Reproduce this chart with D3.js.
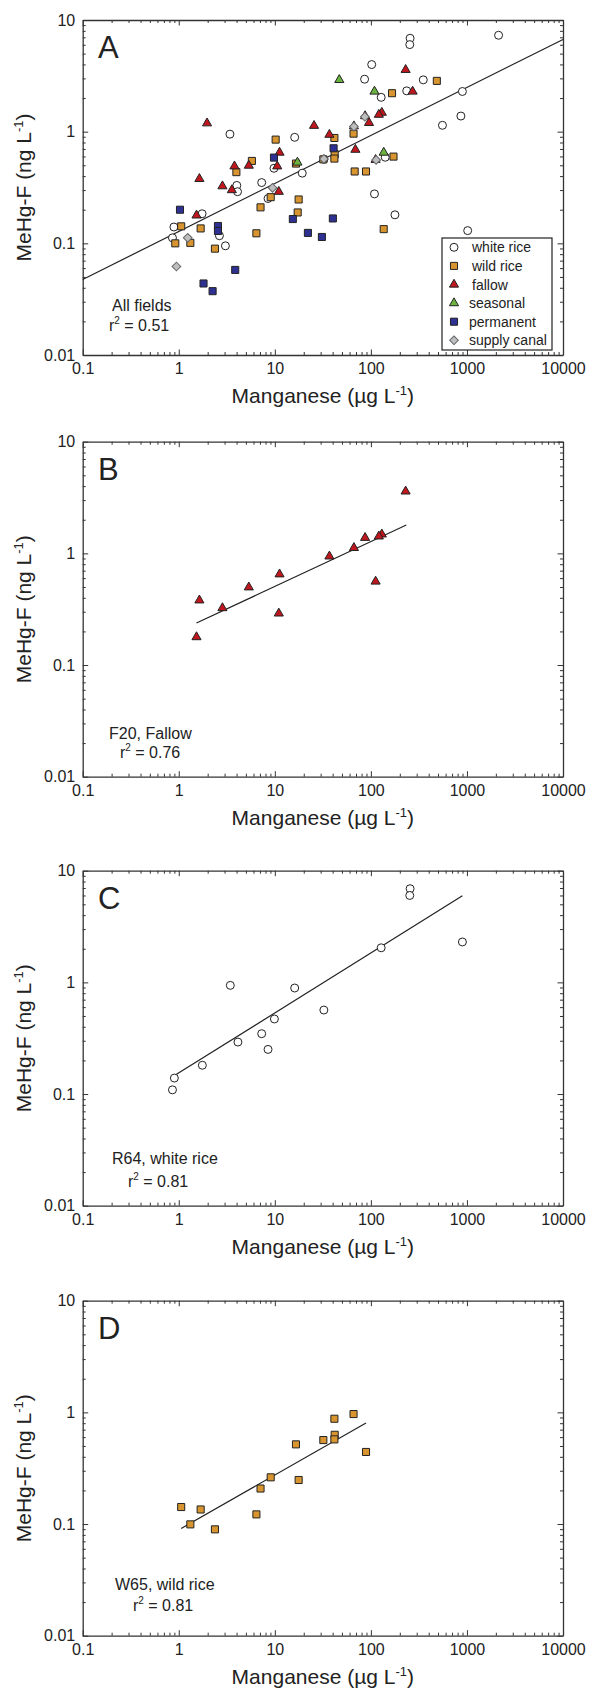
<!DOCTYPE html>
<html>
<head>
<meta charset="utf-8">
<script src="https://cdnjs.cloudflare.com/ajax/libs/d3/7.8.5/d3.min.js"></script>
<style>
  body { margin: 0; background: #fff; }
  svg { display: block; font-family: "Liberation Sans", Arial, Helvetica, sans-serif; }
  .domain { stroke: #333; stroke-width: 1.3; }
  .tick line { stroke: #333; stroke-width: 1; }
  .tick text { font-size: 16px; fill: #222; }
</style>
</head>
<body>
<div id="chart"></div>
<script>
// axis tick labels
const xTicks = [0.1, 1, 10, 100, 1000, 10000];
const yTicks = [0.01, 0.1, 1, 10];

const categories = ['white rice', 'wild rice', 'fallow', 'seasonal', 'permanent', 'supply canal'];

// panel A, all fields: [Mn (ug/L), MeHg-F (ng/L)]
const aWhiteRice = [[256, 6.86], [254, 6.02], [2135, 7.3], [102, 3.99], [86, 2.95], [351, 2.91],
  [236, 2.32], [897, 2.29], [128, 2.03], [865, 1.38], [556, 1.14], [3.41, 0.95], [16.1, 0.89],
  [9.8, 0.47], [19.3, 0.425], [141, 0.59], [4.02, 0.33], [4.09, 0.29], [7.3, 0.35], [8.5, 0.252],
  [109, 0.277], [178, 0.18], [1.75, 0.184], [0.89, 0.14], [0.86, 0.112], [2.65, 0.117],
  [3.06, 0.095], [1018, 0.13], [32.4, 0.565]];
const aWildRice = [[486, 2.85], [166, 2.21], [10.2, 0.849], [66, 0.96], [41.7, 0.878], [42, 0.628],
  [41.7, 0.574], [5.77, 0.547], [16.6, 0.518], [172, 0.598], [3.98, 0.434], [67.8, 0.44], [89, 0.44],
  [9.06, 0.259], [17.7, 0.247], [7.1, 0.21], [17.3, 0.189], [6.43, 0.123], [1.06, 0.142],
  [1.69, 0.136], [1.32, 0.101], [0.92, 0.1], [2.38, 0.0896], [136, 0.134], [32, 0.565]];
const aFallow = [[230, 3.58], [272, 2.29], [130, 1.48], [121, 1.42], [95.6, 1.2], [25.6, 1.13],
  [37, 0.94], [1.97, 1.19], [69, 0.69], [11.2, 0.65], [10.6, 0.49], [5.36, 0.497], [3.8, 0.49],
  [1.64, 0.378], [2.85, 0.325], [3.57, 0.3], [11, 0.29], [1.53, 0.178], [66.6, 1.12], [112, 0.56],
  [87, 1.38]];
const aSeasonal = [[46.9, 2.91], [109, 2.29], [136, 0.65], [17.2, 0.53]];
const aPermanent = [[40.9, 0.71], [9.8, 0.586], [1.03, 0.2], [2.56, 0.143], [2.56, 0.129],
  [15.4, 0.165], [40.2, 0.167], [22.1, 0.124], [30.9, 0.114], [3.87, 0.0578], [1.81, 0.0437],
  [2.25, 0.0373]];
const aSupplyCanal = [[86.5, 1.36], [66.6, 1.11], [32.4, 0.57], [113.5, 0.558], [9.47, 0.314],
  [1.24, 0.112], [0.946, 0.062]];

// panel B, F20 fallow
const bFallow = [[230, 3.59], [130, 1.48], [121, 1.42], [87, 1.38], [66.6, 1.12], [37, 0.94],
  [11.2, 0.65], [112, 0.56], [5.36, 0.497], [1.64, 0.38], [2.85, 0.324], [11, 0.29], [1.53, 0.178]];

// panel C, R64 white rice
const cWhiteRice = [[256, 6.9], [254, 6.0], [897, 2.3], [128, 2.04], [3.44, 0.94], [16.1, 0.89],
  [32.4, 0.565], [9.9, 0.47], [7.3, 0.347], [4.13, 0.292], [8.5, 0.251], [1.76, 0.181],
  [0.9, 0.139], [0.86, 0.109]];

// panel D, W65 wild rice
const dWildRice = [[66, 0.966], [41.7, 0.877], [42, 0.63], [41.7, 0.573], [32, 0.565], [16.6, 0.517],
  [89, 0.442], [9.06, 0.262], [17.7, 0.248], [7.1, 0.208], [6.43, 0.122], [1.06, 0.142],
  [1.69, 0.135], [1.32, 0.0993], [2.38, 0.0896]];

// regression lines in log10 space: [xStart, xEnd, slope, intercept]
const fitA = [0.1, 10000, 0.430, -0.894];
const fitB = [1.53, 234, 0.402, -0.698];
const fitC = [0.92, 897, 0.537, -0.811];
const fitD = [1.06, 89, 0.491, -1.052];

// marker look per category
const styles = {
  'white rice':   { shape: d3.symbolCircle, size: 50, fill: '#fff', rot: 0 },
  'wild rice':    { shape: d3.symbolSquare, size: 50, fill: '#d8952f', rot: 0 },
  'fallow':       { shape: d3.symbolTriangle, size: 36, fill: '#c0161e', rot: 0 },
  'seasonal':     { shape: d3.symbolTriangle, size: 36, fill: '#6cb33f', rot: 0 },
  'permanent':    { shape: d3.symbolSquare, size: 50, fill: '#2e3192', rot: 0 },
  'supply canal': { shape: d3.symbolSquare, size: 38, fill: '#bcbec0', rot: 45 }
};

const panels = [
  { top: 20, letter: 'A', fit: fitA, notes: ['All fields', '0.51'], noteX: [112, 109], noteY: [291, 311],
    series: [['white rice', aWhiteRice], ['wild rice', aWildRice], ['fallow', aFallow],
             ['seasonal', aSeasonal], ['permanent', aPermanent], ['supply canal', aSupplyCanal]],
    legend: true },
  { top: 441.7, letter: 'B', fit: fitB, notes: ['F20, Fallow', '0.76'], noteX: [109, 120], noteY: [297, 316],
    series: [['fallow', bFallow]] },
  { top: 870.7, letter: 'C', fit: fitC, notes: ['R64, white rice', '0.81'], noteX: [112, 128], noteY: [293, 316],
    series: [['white rice', cWhiteRice]] },
  { top: 1300.7, letter: 'D', fit: fitD, notes: ['W65, wild rice', '0.81'], noteX: [115, 133], noteY: [289, 310],
    series: [['wild rice', dWildRice]] }
];

const left = 82.7;
const width = 563 - left;
const height = 335;

const svg = d3.select('#chart').append('svg')
  .attr('width', 590)
  .attr('height', 1689);

svg.append('rect').attr('width', 590).attr('height', 1689).attr('fill', '#fff');

const isMajor = (d, majors) => majors.some((t) => Math.abs(Math.log10(d / t)) < 1e-6);

function addAxis(g, make, scale, transform, majors, labelled, padding) {
  const minor = scale.ticks().filter((d) => !isMajor(d, majors));
  g.append('g')
    .attr('transform', transform)
    .call(make(scale).tickValues(minor).tickSizeInner(-3).tickSizeOuter(0).tickFormat(''))
    .call((s) => s.select('.domain').remove());
  g.append('g')
    .attr('transform', transform)
    .call(make(scale).tickValues(majors).tickSizeInner(-5.5).tickSizeOuter(0)
      .tickPadding(padding).tickFormat(labelled ? (d) => String(d) : ''));
}

function drawPanel(p) {
  const g = svg.append('g').attr('transform', 'translate(' + left + ',' + p.top + ')');

  const x = d3.scaleLog().domain([0.1, 10000]).range([0, width]);
  const y = d3.scaleLog().domain([0.01, 10]).range([height, 0]);

  addAxis(g, d3.axisBottom, x, 'translate(0,' + height + ')', xTicks, true, 8);
  addAxis(g, d3.axisTop, x, 'translate(0,0)', xTicks, false, 3);
  addAxis(g, d3.axisLeft, y, 'translate(0,0)', yTicks, true, 7.5);
  addAxis(g, d3.axisRight, y, 'translate(' + width + ',0)', yTicks, false, 3);

  // axis titles
  const xt = g.append('text')
    .attr('x', width / 2)
    .attr('y', height + 48)
    .attr('text-anchor', 'middle')
    .style('font-size', '21px')
    .attr('fill', '#222')
    .text('Manganese (µg L');
  xt.append('tspan').attr('dy', -8).style('font-size', '13px').text('-1');
  xt.append('tspan').attr('dy', 8).text(')');

  const yt = g.append('text')
    .attr('transform', 'translate(' + (31 - left) + ',' + height / 2 + ') rotate(-90)')
    .attr('text-anchor', 'middle')
    .style('font-size', '21px')
    .attr('fill', '#222')
    .text('MeHg-F (ng L');
  yt.append('tspan').attr('dy', -8).style('font-size', '13px').text('-1');
  yt.append('tspan').attr('dy', 8).text(')');

  // panel letter
  g.append('text')
    .attr('x', 98 - left)
    .attr('y', 38)
    .style('font-size', '31px')
    .attr('fill', '#222')
    .text(p.letter);

  // regression line
  const [x0, x1, slope, intercept] = p.fit;
  const linePts = [x0, x1].map((v) => [v, Math.pow(10, intercept + slope * Math.log10(v))]);
  g.append('path')
    .datum(linePts)
    .attr('fill', 'none')
    .attr('stroke', '#222')
    .attr('stroke-width', 1.2)
    .attr('d', d3.line().x((d) => x(d[0])).y((d) => y(d[1])));

  // points
  p.series.forEach(([cat, data]) => {
    const st = styles[cat];
    g.append('g')
      .selectAll('path')
      .data(data)
      .join('path')
      .attr('transform', (d) => 'translate(' + x(d[0]) + ',' + y(d[1]) + ') rotate(' + st.rot + ')')
      .attr('d', d3.symbol(st.shape, st.size))
      .attr('fill', st.fill)
      .attr('stroke', cat === 'supply canal' ? '#666' : '#222')
      .attr('stroke-width', 1);
  });

  // annotation
  g.append('text')
    .attr('x', p.noteX[0] - left)
    .attr('y', p.noteY[0])
    .style('font-size', '16px')
    .attr('fill', '#222')
    .text(p.notes[0]);
  const r = g.append('text')
    .attr('x', p.noteX[1] - left)
    .attr('y', p.noteY[1])
    .style('font-size', '16px')
    .attr('fill', '#222')
    .text('r');
  r.append('tspan').attr('dy', -7).style('font-size', '10px').text('2');
  r.append('tspan').attr('dy', 7).text(' = ' + p.notes[1]);

  if (p.legend) {
    const lg = g.append('g').attr('transform', 'translate(' + (442 - left) + ',218)');
    lg.append('rect')
      .attr('width', 110)
      .attr('height', 112)
      .attr('fill', '#fff')
      .attr('stroke', '#222')
      .attr('stroke-width', 1.2);
    const rows = lg.selectAll('g.row')
      .data(categories)
      .join('g')
      .attr('class', 'row')
      .attr('transform', (d, i) => 'translate(0,' + (9.3 + i * 18.6) + ')');
    rows.append('path')
      .attr('transform', (d) => 'translate(12,0) rotate(' + styles[d].rot + ')')
      .attr('d', (d) => d3.symbol(styles[d].shape, styles[d].size)())
      .attr('fill', (d) => styles[d].fill)
      .attr('stroke', (d) => d === 'supply canal' ? '#666' : '#222')
      .attr('stroke-width', 1);
    rows.append('text')
      .attr('x', (d, i) => i < 3 ? 30 : 27)
      .attr('dy', '0.36em')
      .style('font-size', '14px')
      .attr('fill', '#222')
      .text((d) => d);
  }
}

panels.forEach(drawPanel);
</script>
</body>
</html>
